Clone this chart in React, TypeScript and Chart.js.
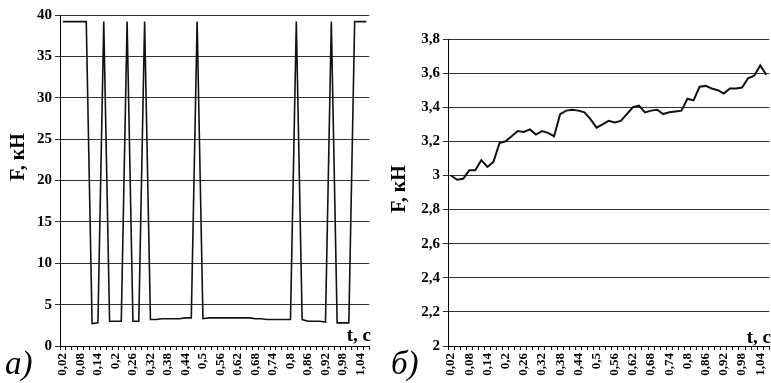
import React, { useEffect, useRef } from 'react';
import { Chart, registerables } from 'chart.js';

Chart.register(...registerables);

// Time categories, t (s)
const timeLabels = [
  '0,02', '0,04', '0,06', '0,08', '0,1', '0,12', '0,14', '0,16', '0,18', '0,2',
  '0,22', '0,24', '0,26', '0,28', '0,3', '0,32', '0,34', '0,36', '0,38', '0,4',
  '0,42', '0,44', '0,46', '0,48', '0,5', '0,52', '0,54', '0,56', '0,58', '0,6',
  '0,62', '0,64', '0,66', '0,68', '0,7', '0,72', '0,74', '0,76', '0,78', '0,8',
  '0,82', '0,84', '0,86', '0,88', '0,9', '0,92', '0,94', '0,96', '0,98', '1',
  '1,02', '1,04', '1,06',
];

// Chart а): force F, kN
const forceA = [
  39.2, 39.2, 39.2, 39.2, 39.2,
  2.7, 2.8,
  39.2,
  3.0, 3.0, 3.0,
  39.2,
  3.0, 3.0,
  39.2,
  3.2, 3.2, 3.3, 3.3, 3.3, 3.3, 3.4, 3.4,
  39.2,
  3.3, 3.4, 3.4, 3.4, 3.4, 3.4, 3.4, 3.4, 3.4, 3.3, 3.3, 3.2, 3.2, 3.2, 3.2, 3.2,
  39.2,
  3.2, 3.0, 3.0, 3.0, 2.9,
  39.2,
  2.8, 2.8, 2.8,
  39.2, 39.2, 39.2,
];

// Chart б): force F, kN
const forceB = [
  3.0, 2.975, 2.98, 3.03, 3.03, 3.09, 3.05, 3.08, 3.19, 3.2,
  3.23, 3.26, 3.255, 3.27, 3.24, 3.26, 3.25, 3.23, 3.36, 3.38,
  3.385, 3.38, 3.37, 3.33, 3.28, 3.3, 3.32, 3.31, 3.32, 3.36,
  3.4, 3.41, 3.37, 3.38, 3.385, 3.36, 3.37, 3.375, 3.38, 3.45,
  3.44, 3.52, 3.525, 3.51, 3.5, 3.48, 3.51, 3.51, 3.515, 3.57,
  3.585, 3.645, 3.59,
];

const yAxisTitle = 'F, кН';
const xAxisTitle = 't, c';
const panelA = 'а)';
const panelB = 'б)';

type Note = {
  text: string;
  x: number;
  y: number;
  font: string;
  align?: CanvasTextAlign;
  baseline?: CanvasTextBaseline;
  rotate?: boolean;
};

function makeNotes(items: Note[]) {
  return {
    id: 'notes',
    afterDraw(chart: any) {
      const ctx: CanvasRenderingContext2D = chart.ctx;
      items.forEach((n) => {
        ctx.save();
        ctx.font = n.font;
        ctx.fillStyle = '#000';
        ctx.textAlign = n.align || 'left';
        ctx.textBaseline = n.baseline || 'alphabetic';
        ctx.translate(n.x, n.y);
        if (n.rotate) ctx.rotate(-Math.PI / 2);
        ctx.fillText(n.text, 0, 0);
        ctx.restore();
      });
    },
  };
}

const fmt = (v: number) => {
  const s = Number(Number(v).toFixed(1)).toString();
  return s.replace('.', ',');
};

type Props = {
  left: number;
  width: number;
  height: number;
  data: number[];
  yMin: number;
  yMax: number;
  yStep: number;
  area: { left: number; top: number; right: number; bottom: number };
  notes: Note[];
  lineWidth: number;
};

function LineChart(p: Props) {
  const ref = useRef<HTMLCanvasElement>(null);
  useEffect(() => {
    const family = "'Liberation Serif', 'Times New Roman', serif";
    const chart = new Chart(ref.current!, {
      type: 'line',
      data: {
        labels: timeLabels,
        datasets: [
          {
            data: p.data,
            borderColor: '#111',
            borderWidth: p.lineWidth,
            pointRadius: 0,
            tension: 0,
            fill: false,
          },
        ],
      },
      options: {
        responsive: false,
        animation: false,
        devicePixelRatio: 1,
        layout: { padding: { left: 0, top: p.area.top, right: p.width - p.area.right, bottom: 0 } },
        plugins: { legend: { display: false }, tooltip: { enabled: false } },
        scales: {
          x: {
            offset: true,
            grid: { offset: true, drawOnChartArea: false, drawTicks: true, tickLength: 4, color: '#000' },
            border: { color: '#000', width: 1 },
            ticks: {
              autoSkip: false,
              maxRotation: 90,
              minRotation: 90,
              padding: 3,
              color: '#000',
              font: { family, size: 13, weight: 'bold' },
              callback: (_v: any, i: number) => (i % 3 === 0 ? timeLabels[i] : ''),
            },
            afterFit: (s: any) => {
              s.height = p.height - p.area.bottom;
            },
          },
          y: {
            min: p.yMin,
            max: p.yMax,
            grid: { color: '#333', tickLength: 5, lineWidth: 1 },
            border: { color: '#000', width: 1 },
            ticks: {
              stepSize: p.yStep,
              padding: 3,
              color: '#000',
              font: { family, size: 15, weight: 'bold' },
              callback: (v: any) => fmt(v),
            },
            afterFit: (s: any) => {
              s.width = p.area.left;
            },
          },
        },
      },
      plugins: [makeNotes(p.notes)],
    });
    return () => chart.destroy();
  }, []);
  return (
    <canvas
      ref={ref}
      width={p.width}
      height={p.height}
      style={{ position: 'absolute', left: p.left, top: 0, width: p.width, height: p.height }}
    />
  );
}

const titleFont = "bold 20px 'Liberation Serif', serif";
const xTitleFont = "bold 19px 'Liberation Serif', serif";
const panelFont = "italic 33px 'Liberation Serif', serif";

export default function App() {
  return (
    <div
      style={{
        position: 'absolute',
        left: 0,
        top: 0,
        width: 771,
        height: 383,
        overflow: 'hidden',
        background: '#fff',
      }}
    >
      <LineChart
        left={0}
        width={385}
        height={383}
        data={forceA}
        yMin={0}
        yMax={40}
        yStep={5}
        lineWidth={1.6}
        area={{ left: 60, top: 15, right: 378, bottom: 346 }}
        notes={[
          { text: yAxisTitle, x: 19, y: 157, font: titleFont, align: 'center', baseline: 'middle', rotate: true },
          { text: xAxisTitle, x: 371, y: 341, font: xTitleFont, align: 'right' },
          { text: panelA, x: 5, y: 374, font: panelFont },
        ]}
      />
      <LineChart
        left={385}
        width={400}
        height={383}
        data={forceB}
        yMin={2}
        yMax={3.8}
        yStep={0.2}
        lineWidth={2}
        area={{ left: 63, top: 39, right: 387, bottom: 346 }}
        notes={[
          { text: yAxisTitle, x: 15, y: 189, font: titleFont, align: 'center', baseline: 'middle', rotate: true },
          { text: xAxisTitle, x: 386, y: 343, font: xTitleFont, align: 'right' },
          { text: panelB, x: 6, y: 374, font: panelFont },
        ]}
      />
    </div>
  );
}
